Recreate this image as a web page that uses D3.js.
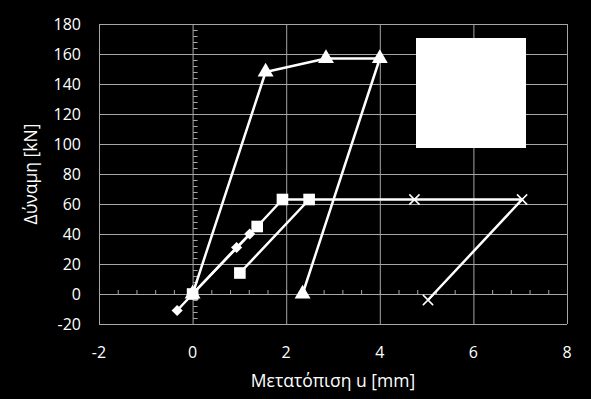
<!DOCTYPE html>
<html><head><meta charset="utf-8">
<script src="https://cdn.jsdelivr.net/npm/d3@7"></script>
<style>html,body{margin:0;padding:0;background:#000;}svg{display:block;}</style>
</head><body>
<svg id="c" width="591" height="399"></svg>
<script>
// Data
const diamondX = [-0.33, 0, 0.94, 1.22];
const diamondY = [-11, 0, 31, 40];
const squareX = [0, 1.38, 1.92, 2.49, 1.01];
const squareY = [0, 45, 63, 63, 14];
const triangleX = [0, 1.56, 2.85, 4.0, 2.35];
const triangleY = [0, 148, 157, 157, 0];
const crossX = [2.49, 4.74, 7.04, 5.03];
const crossY = [63, 63, 63, -4];
const xTicks = [-2, 0, 2, 4, 6, 8];
const yTicks = [-20, 0, 20, 40, 60, 80, 100, 120, 140, 160, 180];

const W = 591, H = 399;
const m = {l: 99, r: 24, t: 24, b: 75};
const svg = d3.select('#c');
svg.append('rect').attr('width', W).attr('height', H).attr('fill', '#000');
const x = d3.scaleLinear().domain([-2, 8]).range([m.l, W - m.r]);
const y = d3.scaleLinear().domain([-20, 180]).range([H - m.b, m.t]);
const grid = '#a6a6a6';
const font = "'Open Sans', 'Noto Sans', sans-serif";

// gridlines
const g = svg.append('g');
g.selectAll('.hg').data(yTicks).join('line')
  .attr('x1', x(-2)).attr('x2', x(8)).attr('y1', d => y(d) + 0.5).attr('y2', d => y(d) + 0.5)
  .attr('stroke', grid).attr('stroke-width', 1);
g.selectAll('.vg').data(xTicks).join('line')
  .attr('y1', y(-20)).attr('y2', y(180)).attr('x1', d => x(d) + 0.5).attr('x2', d => x(d) + 0.5)
  .attr('stroke', grid).attr('stroke-width', 1);

// axes at zero with minor ticks
const yMinor = d3.range(-20, 180.01, 4);
g.selectAll('.ym').data(yMinor).join('line')
  .attr('x1', x(0) + 0.5).attr('x2', x(0) + 5).attr('y1', d => y(d) + 0.5).attr('y2', d => y(d) + 0.5)
  .attr('stroke', grid);
const xMinor = d3.range(-2, 8.01, 0.4);
g.selectAll('.xm').data(xMinor).join('line')
  .attr('x1', d => x(d) + 0.5).attr('x2', d => x(d) + 0.5).attr('y1', y(0) + 0.5).attr('y2', y(0) - 4)
  .attr('stroke', grid);

// tick labels
svg.append('g').selectAll('text').data(yTicks).join('text')
  .attr('x', m.l - 18).attr('y', d => y(d)).attr('dy', '0.35em')
  .attr('text-anchor', 'end').attr('fill', '#fff').attr('font-family', font).attr('font-size', 16)
  .text(d => d);
svg.append('g').selectAll('text').data(xTicks).join('text')
  .attr('x', d => x(d)).attr('y', y(-20) + 28).attr('dy', '0.35em')
  .attr('text-anchor', 'middle').attr('fill', '#fff').attr('font-family', font).attr('font-size', 16)
  .text(d => d);

// axis titles
svg.append('text').attr('x', (x(-2) + x(8)) / 2).attr('y', 381).attr('dy', '0.35em')
  .attr('text-anchor', 'middle').attr('fill', '#fff').attr('font-family', font).attr('font-size', 17.5)
  .text('Μετατόπιση u [mm]');
svg.append('text').attr('transform', `translate(31,${(y(-20) + y(180)) / 2}) rotate(-90)`)
  .attr('dy', '0.35em').attr('text-anchor', 'middle').attr('fill', '#fff').attr('font-family', font).attr('font-size', 17.5)
  .text('Δύναμη [kN]');

// series
const line = d3.line().x(d => x(d[0])).y(d => y(d[1]));
function series(xs, ys, sym, size, filled, rot) {
  const pts = xs.map((v, i) => [v, ys[i]]);
  svg.append('path').datum(pts).attr('d', line).attr('fill', 'none')
    .attr('stroke', '#fff').attr('stroke-width', 2.5).attr('stroke-linejoin', 'round');
  svg.append('g').selectAll('path').data(pts).join('path')
    .attr('transform', d => `translate(${x(d[0])},${y(d[1])}) rotate(${rot || 0})`)
    .attr('d', d3.symbol(sym, size))
    .attr('fill', filled ? '#fff' : 'none')
    .attr('stroke', '#fff').attr('stroke-width', filled ? 0 : 1.5);
}
series(crossX, crossY, d3.symbolX, 70, false);
series(diamondX, diamondY, d3.symbolSquare, 62, true, 45);
series(triangleX, triangleY, d3.symbolTriangle, 110, true);
series(squareX, squareY, d3.symbolSquare, 135, true);

// legend box
svg.append('rect').attr('x', 416).attr('y', 38).attr('width', 110).attr('height', 110).attr('fill', '#fff');
</script>
</body></html>
